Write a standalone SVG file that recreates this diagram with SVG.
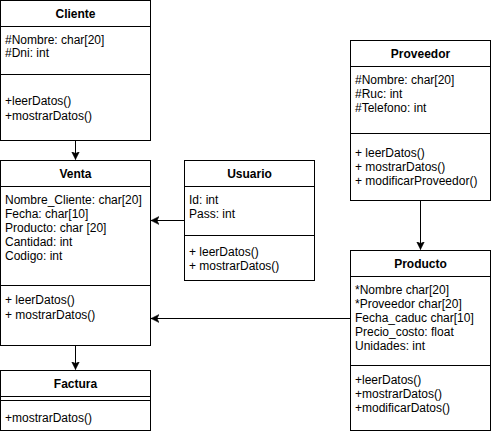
<svg xmlns="http://www.w3.org/2000/svg" width="491" height="434" viewBox="0 0 491 434">
<style>
.box{fill:#fff;stroke:#000;stroke-width:1}
.ln{stroke:#000;stroke-width:1;fill:none}
.t{font-family:"Liberation Sans",Arial,sans-serif;font-size:12px;fill:#000}
.h{font-family:"Liberation Sans",Arial,sans-serif;font-size:12px;font-weight:bold;fill:#000;text-anchor:middle}
</style>
<defs>
<marker id="arr" markerWidth="10" markerHeight="10" refX="8" refY="4" orient="auto" markerUnits="userSpaceOnUse">
<path d="M0,0 L8,4 L0,8 L2,4 z" fill="#000" stroke="#000" stroke-width="0.5"/>
</marker>
</defs>
<g id="connectors">
<path class="ln" d="M75.5,140.5 V159.5" marker-end="url(#arr)"/>
<path class="ln" d="M75.5,345.5 V369.5" marker-end="url(#arr)"/>
<path class="ln" d="M184.5,220.5 H151" marker-end="url(#arr)"/>
<path class="ln" d="M350.5,318.5 H151" marker-end="url(#arr)"/>
<path class="ln" d="M420.5,200.5 V249.5" marker-end="url(#arr)"/>
</g>
<g id="cliente">
<rect class="box" x="0.5" y="0.5" width="150" height="140"/>
<path class="ln" d="M0.5,26.5 H150.5 M0.5,74.5 H150.5"/>
<text class="h" x="75.5" y="18">Cliente</text>
<text class="t" x="5" y="44">#Nombre: char[20]</text>
<text class="t" x="5" y="57">#Dni: int</text>
<text class="t" x="5" y="105">+leerDatos()</text>
<text class="t" x="5" y="120">+mostrarDatos()</text>
</g>
<g id="venta">
<rect class="box" x="0.5" y="160.5" width="150" height="185"/>
<path class="ln" d="M0.5,186.5 H150.5 M0.5,285.5 H150.5"/>
<text class="h" x="75.5" y="178">Venta</text>
<text class="t" x="5" y="204">Nombre_Cliente: char[20]</text>
<text class="t" x="5" y="218">Fecha: char[10]</text>
<text class="t" x="5" y="232">Producto: char [20]</text>
<text class="t" x="5" y="246">Cantidad: int</text>
<text class="t" x="5" y="260">Codigo: int</text>
<text class="t" x="5" y="304">+ leerDatos()</text>
<text class="t" x="5" y="319">+ mostrarDatos()</text>
</g>
<g id="factura">
<rect class="box" x="0.5" y="370.5" width="150" height="60"/>
<path class="ln" d="M0.5,396.5 H150.5 M0.5,400.5 H150.5"/>
<text class="h" x="75.5" y="388">Factura</text>
<text class="t" x="5" y="422">+mostrarDatos()</text>
</g>
<g id="usuario">
<rect class="box" x="184.5" y="160.5" width="130" height="120"/>
<path class="ln" d="M184.5,186.5 H314.5 M184.5,235.5 H314.5"/>
<text class="h" x="249.5" y="178">Usuario</text>
<text class="t" x="189" y="204">Id: int</text>
<text class="t" x="189" y="218">Pass: int</text>
<text class="t" x="189" y="256">+ leerDatos()</text>
<text class="t" x="189" y="270">+ mostrarDatos()</text>
</g>
<g id="proveedor">
<rect class="box" x="350.5" y="40.5" width="140" height="160"/>
<path class="ln" d="M350.5,66.5 H490.5 M350.5,133.5 H490.5"/>
<text class="h" x="420.5" y="58">Proveedor</text>
<text class="t" x="355" y="84">#Nombre: char[20]</text>
<text class="t" x="355" y="98">#Ruc: int</text>
<text class="t" x="355" y="112">#Telefono: int</text>
<text class="t" x="355" y="157">+ leerDatos()</text>
<text class="t" x="355" y="171">+ mostrarDatos()</text>
<text class="t" x="355" y="185">+ modificarProveedor()</text>
</g>
<g id="producto">
<rect class="box" x="350.5" y="250.5" width="140" height="180"/>
<path class="ln" d="M350.5,276.5 H490.5 M350.5,365.5 H490.5"/>
<text class="h" x="420.5" y="268">Producto</text>
<text class="t" x="355" y="294">*Nombre char[20]</text>
<text class="t" x="355" y="308">*Proveedor char[20]</text>
<text class="t" x="355" y="322">Fecha_caduc char[10]</text>
<text class="t" x="355" y="336">Precio_costo: float</text>
<text class="t" x="355" y="350">Unidades: int</text>
<text class="t" x="355" y="384">+leerDatos()</text>
<text class="t" x="355" y="398">+mostrarDatos()</text>
<text class="t" x="355" y="412">+modificarDatos()</text>
</g>
</svg>
